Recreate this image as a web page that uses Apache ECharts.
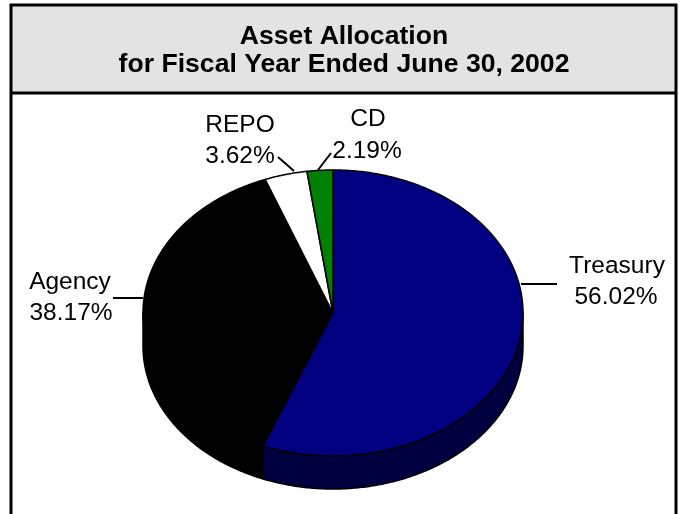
<!DOCTYPE html>
<html>
<head>
<meta charset="utf-8">
<style>html,body{margin:0;padding:0;background:#fff}#chart{width:679px;height:514px}</style>
<script src="https://cdn.jsdelivr.net/npm/echarts@6/dist/echarts.min.js"></script>
</head>
<body>
<div id="chart"></div>
<script>
// Portfolio shares, clockwise from twelve o'clock
const categories = ['Treasury', 'Agency', 'REPO', 'CD'];
const shares = [56.02, 38.17, 3.62, 2.19];
const chartTitle = 'Asset Allocation\nfor Fiscal Year Ended June 30, 2002';

const faceColors = ['#000080', '#000000', '#ffffff', '#008000'];
const wallColors = ['#000040', '#000000', '#cccccc', '#004000'];

// Tilted disc geometry
const disc = { cx: 333, cy: 313, rx: 190, ry: 143, depth: 33 };

// Label centres and leader-line ends
const labelSpots = [
  { name: [617, 266], pct: [616, 297], leader: [[521, 284], [557, 284]] },
  { name: [70, 282], pct: [71, 313], leader: [[113, 298], [143, 298]] },
  { name: [240, 125], pct: [240, 156], leader: [[278, 157], [294, 171]] },
  { name: [368, 119], pct: [367, 151], leader: [[318, 170], [331, 153]] }
];

const total = shares.reduce((a, b) => a + b, 0);
const startAngles = [];
shares.reduce((acc, v, i) => { startAngles[i] = acc; return acc + v / total * Math.PI * 2; }, 0);

function rimPoint(theta, drop) {
  return [disc.cx + disc.rx * Math.sin(theta), disc.cy - disc.ry * Math.cos(theta) + (drop || 0)];
}

function arcPoints(from, to, drop) {
  const steps = Math.max(2, Math.ceil((to - from) / 0.01));
  const pts = [];
  for (let s = 0; s <= steps; s++) pts.push(rimPoint(from + (to - from) * s / steps, drop));
  return pts;
}

function renderSlice(params, api) {
  const i = params.dataIndex;
  const value = api.value(0);
  const a0 = startAngles[i];
  const a1 = a0 + value / total * Math.PI * 2;
  const children = [];

  // Side wall: only the part of the rim facing the viewer
  const w0 = Math.max(a0, Math.PI / 2);
  const w1 = Math.min(a1, Math.PI * 1.5);
  if (w1 > w0) {
    const wall = arcPoints(w0, w1, 0).concat(arcPoints(w0, w1, disc.depth).reverse());
    children.push({
      type: 'polygon', z2: 1,
      shape: { points: wall },
      style: { fill: wallColors[i], stroke: '#000', lineWidth: 1.5, lineJoin: 'round' }
    });
  }

  // Top face
  children.push({
    type: 'polygon', z2: 2,
    shape: { points: [[disc.cx, disc.cy]].concat(arcPoints(a0, a1, 0)) },
    style: { fill: faceColors[i], stroke: '#000', lineWidth: 1.5, lineJoin: 'round' }
  });

  // Leader line and two-line label
  const spot = labelSpots[i];
  children.push({
    type: 'line', z2: 3,
    shape: { x1: spot.leader[0][0], y1: spot.leader[0][1], x2: spot.leader[1][0], y2: spot.leader[1][1] },
    style: { stroke: '#000', lineWidth: 2 }
  });
  const textStyle = { fill: '#000', fontFamily: '"Liberation Sans", Arial, sans-serif', fontSize: 24.5, align: 'center', verticalAlign: 'middle' };
  children.push({ type: 'text', z2: 4, style: Object.assign({ x: spot.name[0], y: spot.name[1], text: categories[i] }, textStyle) });
  children.push({ type: 'text', z2: 4, style: Object.assign({ x: spot.pct[0], y: spot.pct[1], text: value.toFixed(2) + '%' }, textStyle) });

  return { type: 'group', children };
}

const chart = echarts.init(document.getElementById('chart'), null, { renderer: 'canvas' });
chart.setOption({
  animation: false,
  backgroundColor: '#fff',
  title: {
    text: chartTitle,
    left: 339,
    top: 18,
    textAlign: 'center',
    textStyle: { fontFamily: '"Liberation Sans", Arial, sans-serif', fontWeight: 'bold', fontSize: 26.6, lineHeight: 28, color: '#000' }
  },
  graphic: [
    { type: 'rect', z: -1, shape: { x: 11, y: 5, width: 665, height: 88 }, style: { fill: '#e3e3e3' } },
    { type: 'line', shape: { x1: 10, y1: 5, x2: 677, y2: 5 }, style: { stroke: '#000', lineWidth: 3 } },
    { type: 'line', shape: { x1: 10, y1: 93, x2: 677, y2: 93 }, style: { stroke: '#000', lineWidth: 3 } },
    { type: 'line', shape: { x1: 11, y1: 4, x2: 11, y2: 514 }, style: { stroke: '#000', lineWidth: 3 } },
    { type: 'line', shape: { x1: 676, y1: 4, x2: 676, y2: 514 }, style: { stroke: '#000', lineWidth: 3 } }
  ],
  series: [{
    type: 'custom',
    coordinateSystem: 'none',
    renderItem: renderSlice,
    data: shares.map((v, i) => ({ name: categories[i], value: [v] })),
    silent: true
  }]
});
</script>
</body>
</html>
